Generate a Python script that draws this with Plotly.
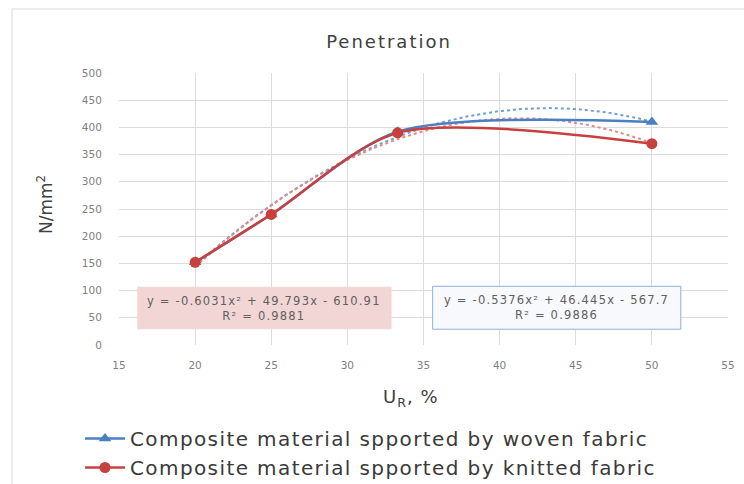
import numpy as np
import plotly.graph_objects as go

# U_R, % (x values)
ur = [20, 25, 33.3, 50]
# Penetration, N/mm^2
woven = [152, 240, 392, 410]
knitted = [152, 240, 390, 370]

# Polynomial (order 2) trendline coefficients: a*x^2 + b*x + c
woven_coef = [-0.5376, 46.445, -567.7]
knitted_coef = [-0.6031, 49.793, -610.91]
woven_r2 = 0.9886
knitted_r2 = 0.9881

x_ticks = [15, 20, 25, 30, 35, 40, 45, 50, 55]
y_ticks = [0, 50, 100, 150, 200, 250, 300, 350, 400, 450, 500]

series_names = ["Composite material spported by woven fabric",
                "Composite material spported by knitted fabric"]

BLUE = "#4a7fc1"
RED = "#c8403d"
FONT = "DejaVu Sans"

W, H = 744, 484
L, R, T, B = 119, 16, 73, 139
PW, PH = W - L - R, H - T - B


def px_x(p):
    """Pixel column -> paper x."""
    return (p - L) / PW


def px_y(p):
    """Pixel row -> paper y."""
    return (H - B - p) / PH


def wide(text, ls):
    """Spread each line of text with extra letter spacing (px)."""
    return "<br>".join(f'<span style="letter-spacing:{ls}px">{ln}</span>'
                       for ln in text.split("<br>"))


fig = go.Figure()

xs = np.linspace(min(ur), max(ur), 120)
for coef, col in [(woven_coef, "#6f9fd8"), (knitted_coef, "#e28a88")]:
    fig.add_trace(go.Scatter(
        x=xs, y=np.polyval(coef, xs), mode="lines",
        line=dict(color=col, width=2, dash="dot"),
        showlegend=False, hoverinfo="skip"))

fig.add_trace(go.Scatter(
    x=ur, y=woven, mode="lines+markers", name=wide(series_names[0], 1.4),
    line=dict(color=BLUE, width=2.5, shape="spline", smoothing=0.8),
    marker=dict(symbol="triangle-up", size=11, color=BLUE)))
fig.add_trace(go.Scatter(
    x=ur, y=knitted, mode="lines+markers", name=wide(series_names[1], 1.4),
    line=dict(color=RED, width=2.5, shape="spline", smoothing=0.8),
    marker=dict(symbol="circle", size=11, color=RED)))


def fmt_eq(coef, r2):
    a, b, c = coef
    sign = "-" if c < 0 else "+"
    return f"y = {a:g}x² + {b:g}x {sign} {abs(c):g}<br>R² = {r2:g}"


# Trendline equation labels
fig.add_shape(type="rect", xref="x", yref="y", x0=16.2, x1=32.9, y0=29, y1=107,
              fillcolor="#f2d6d5", line=dict(width=0), layer="above")
fig.add_shape(type="rect", xref="x", yref="y", x0=35.6, x1=51.9, y0=29, y1=108,
              fillcolor="#f7f9fc", line=dict(color="#8fb0dc", width=1), layer="above")
fig.add_annotation(x=(16.2 + 32.9) / 2, y=68, xref="x", yref="y", showarrow=False,
                   text=wide(fmt_eq(knitted_coef, knitted_r2), 1.2), align="center",
                   font=dict(family=FONT, size=11.5, color="#606060"))
fig.add_annotation(x=(35.6 + 51.9) / 2, y=68.5, xref="x", yref="y", showarrow=False,
                   text=wide(fmt_eq(woven_coef, woven_r2), 1.2), align="center",
                   font=dict(family=FONT, size=11.5, color="#606060"))

# Axis titles
fig.add_annotation(x=px_x(411), y=px_y(398), xref="paper", yref="paper", showarrow=False,
                   text=wide("U<sub>R</sub>, %", 1), xanchor="center", yanchor="middle",
                   font=dict(family=FONT, size=18, color="#404040"))
fig.add_annotation(x=px_x(45), y=px_y(205), xref="paper", yref="paper", showarrow=False,
                   text="N/mm<sup>2</sup>", textangle=-90, xanchor="center", yanchor="middle",
                   font=dict(family=FONT, size=17, color="#404040"))

# Chart frame
fig.add_shape(type="rect", xref="paper", yref="paper",
              x0=px_x(12), x1=px_x(800), y0=px_y(520), y1=px_y(9),
              line=dict(color="#d9d9d9", width=1), fillcolor="rgba(0,0,0,0)", layer="below")

fig.update_layout(
    width=W, height=H,
    margin=dict(l=L, r=R, t=T, b=B, autoexpand=False),
    paper_bgcolor="white", plot_bgcolor="white",
    font=dict(family=FONT, color="#595959"),
    title=dict(text=wide("Penetration", 2), x=389 / W, xref="container", xanchor="center",
               y=1 - 42 / H, yref="container", yanchor="middle",
               font=dict(family=FONT, size=18, color="#404040")),
    xaxis=dict(range=[15, 55], tickvals=x_ticks, showgrid=True, gridcolor="#dcdcdc",
               gridwidth=1, zeroline=False, showline=False,
               tickfont=dict(family=FONT, size=10.5, color="#808080"),
               ticks="outside", ticklen=10, tickcolor="rgba(0,0,0,0)"),
    yaxis=dict(range=[0, 500], tickvals=y_ticks, showgrid=True, gridcolor="#dcdcdc",
               gridwidth=1, zeroline=False, showline=False,
               tickfont=dict(family=FONT, size=10.5, color="#808080"),
               ticks="outside", ticklen=14, tickcolor="rgba(0,0,0,0)"),
    legend=dict(x=px_x(80), xanchor="left", y=px_y(419), yanchor="top",
                orientation="v", bgcolor="rgba(0,0,0,0)",
                font=dict(family=FONT, size=20, color="#3a3a3a"),
                itemwidth=40, tracegroupgap=0),
)

fig.write_html("out.html")
